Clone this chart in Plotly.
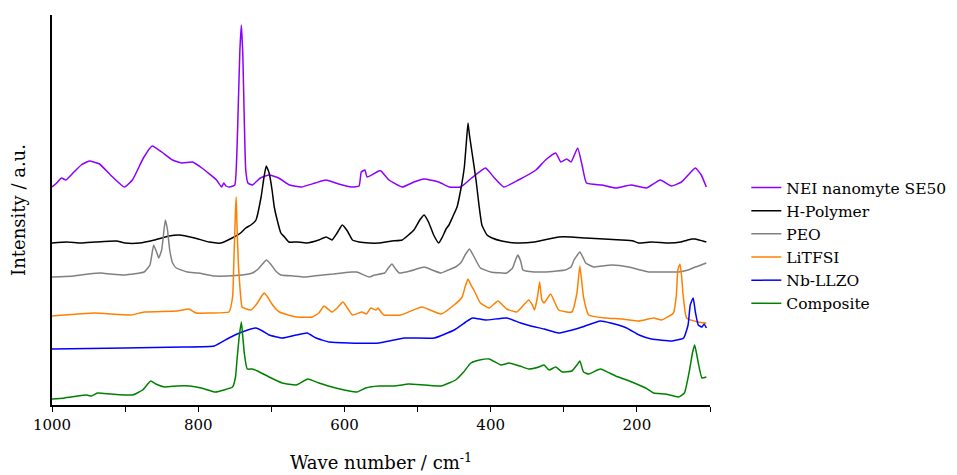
import plotly.graph_objects as go

# ---- data (Raman intensities, arbitrary units, vertically offset as in reference) ----
series_names = ["NEI nanomyte SE50", "H-Polymer", "PEO", "LiTFSI", "Nb-LLZO", "Composite"]
series_colors = ["#8B00FF", "#000000", "#808080", "#FF8000", "#0000FF", "#008000"]

wn_nei = [1000, 995, 987, 981, 970, 960, 949, 935, 920, 901, 890, 875, 863, 850, 835, 822, 808, 795, 775, 768,
          765, 762, 757, 750, 747, 745, 743, 741, 739, 737, 735, 732, 726, 715, 703, 690, 675, 659, 640, 625,
          608, 590, 580, 577, 572, 569, 553, 550, 539, 521, 505, 491, 471, 457, 441, 426, 407, 396, 382, 362,
          338, 325, 311, 304, 296, 290, 281, 275, 269, 248, 229, 208, 187, 168, 153, 139, 120, 112, 105]
int_nei = [218, 221, 227, 225, 233, 240, 244, 241, 230, 218, 225, 247, 259, 253, 245, 242, 243, 237, 225, 218,
           222, 219, 218, 220, 255, 305, 355, 380, 350, 285, 235, 222, 220, 227, 230, 227, 220, 218, 222, 225,
           221, 218, 219, 233, 235, 228, 234, 234, 225, 218, 223, 226, 223, 218, 218, 227, 237, 228, 218, 225,
           235, 245, 252, 243, 246, 243, 257, 240, 222, 220, 217, 220, 217, 225, 219, 223, 237, 230, 218]

wn_hpoly = [1000, 980, 960, 940, 912, 900, 880, 860, 840, 826, 805, 785, 769, 751, 742, 735, 728, 721, 714, 710,
            707, 703, 699, 696, 692, 687, 682, 676, 665, 652, 635, 625, 617, 610, 603, 596, 589, 580, 566, 553,
            535, 521, 505, 497, 491, 485, 478, 471, 466, 461, 457, 452, 446, 441, 436, 433, 431, 429, 425, 420,
            416, 412, 405, 398, 385, 365, 340, 307, 290, 270, 245, 221, 205, 198, 180, 156, 140, 125, 120, 110, 105]
int_hpoly = [162, 163, 162, 163, 164, 162, 162, 165, 169, 170, 167, 163, 162, 168, 172, 177, 180, 185, 208, 228,
             239, 232, 215, 198, 185, 172, 168, 163, 163, 162, 165, 168, 165, 172, 180, 174, 165, 163, 162, 162,
             164, 165, 175, 185, 190, 183, 170, 162, 168, 176, 180, 188, 198, 215, 238, 265, 282, 270, 250, 225,
             200, 180, 170, 167, 164, 162, 163, 168, 168, 167, 166, 165, 164, 162, 163, 162, 163, 166, 166, 164, 163]

wn_peo = [1000, 970, 950, 933, 920, 900, 874, 866, 861, 857, 854, 850, 845, 842, 839, 835, 830, 815, 800, 778,
          760, 740, 726, 718, 712, 707, 701, 694, 687, 670, 652, 630, 615, 603, 590, 583, 566, 559, 545, 540,
          535, 530, 525, 510, 491, 480, 468, 458, 448, 440, 435, 429, 424, 419, 414, 400, 378, 370, 366, 363,
          359, 356, 352, 340, 327, 310, 298, 290, 286, 278, 274, 270, 259, 248, 234, 211, 195, 184, 170, 156, 143, 130, 120, 112, 105]
int_peo = [128, 129, 131, 132, 131, 130, 133, 140, 160, 153, 147, 155, 185, 175, 155, 142, 137, 133, 132, 129,
           129, 130, 132, 136, 141, 145, 141, 134, 130, 129, 128, 130, 131, 132, 133, 133, 128, 130, 132, 137,
           141, 136, 132, 134, 138, 135, 132, 135, 138, 143, 150, 156, 150, 143, 137, 133, 132, 137, 145, 150,
           144, 135, 134, 133, 133, 134, 135, 138, 145, 153, 148, 142, 138, 139, 140, 138, 135, 133, 133, 133, 133, 135, 138, 140, 142]

wn_litfsi = [1000, 942, 892, 874, 829, 813, 803, 785, 758, 753, 751, 749, 748, 747, 745, 743, 740, 734, 728, 719,
             714, 710, 705, 701, 695, 689, 666, 644, 635, 628, 617, 610, 602, 596, 589, 576, 570, 564, 557, 554,
             550, 546, 523, 494, 468, 450, 439, 435, 431, 427, 423, 414, 402, 390, 378, 364, 348, 343, 340, 336,
             333, 330, 327, 318, 307, 289, 282, 278, 273, 266, 243, 220, 197, 177, 166, 150, 146, 144, 141, 139,
             137, 132, 116, 105]
int_litfsi = [89, 92, 90, 93, 94, 96, 92, 92, 93, 108, 150, 195, 208, 180, 140, 118, 98, 96, 95, 102,
              108, 112, 108, 103, 97, 93, 88, 88, 92, 99, 93, 97, 103, 97, 90, 93, 91, 97, 95, 97,
              93, 90, 90, 98, 91, 100, 108, 118, 126, 120, 115, 102, 97, 104, 96, 93, 105, 100, 95, 108,
              123, 105, 102, 111, 95, 93, 112, 139, 108, 90, 87, 86, 84, 87, 85, 92, 110, 135, 141, 130,
              112, 87, 83, 82]

wn_llzo = [1000, 900, 820, 778, 758, 740, 721, 712, 703, 685, 666, 651, 639, 621, 594, 553, 518, 477, 450, 434,
           425, 407, 378, 359, 345, 327, 307, 279, 250, 236, 214, 197, 180, 152, 136, 130, 127, 123, 120, 116,
           111, 108, 105]
int_llzo = [56, 57, 58, 59, 67, 73, 77, 74, 70, 67, 70, 72, 67, 63, 62, 62, 67, 67, 75, 83,
            87, 85, 87, 82, 79, 76, 72, 77, 84, 82, 77, 70, 66, 64, 67, 80, 100, 107, 93, 80,
            78, 81, 77]

wn_comp = [1000, 983, 965, 953, 946, 938, 919, 890, 876, 865, 858, 846, 829, 812, 796, 778, 776, 753, 749, 747,
           744, 741, 739, 737, 733, 726, 719, 703, 685, 666, 650, 635, 612, 583, 571, 553, 532, 512, 468, 448,
           437, 427, 415, 402, 386, 375, 360, 348, 334, 327, 320, 311, 302, 289, 282, 278, 273, 266, 250, 229,
           207, 188, 177, 161, 143, 135, 128, 124, 121, 118, 116, 111, 105]
int_comp = [6, 7, 9, 10, 9, 12, 11, 10, 15, 24, 21, 18, 19, 19, 17, 13, 13, 18, 28, 45,
            68, 83, 68, 52, 36, 36, 34, 28, 22, 20, 26, 22, 17, 13, 17, 19, 19, 21, 19, 25,
            33, 42, 45, 46, 40, 42, 39, 36, 38, 40, 35, 38, 33, 34, 40, 44, 33, 31, 36, 29,
            23, 17, 12, 11, 8, 12, 35, 52, 60, 50, 42, 27, 28]

x_tick_step = 200
x_range = [1000, 100]

FONT = "DejaVu Serif"

fig = go.Figure()
all_x = [wn_nei, wn_hpoly, wn_peo, wn_litfsi, wn_llzo, wn_comp]
all_y = [int_nei, int_hpoly, int_peo, int_litfsi, int_llzo, int_comp]
for name, color, xs, ys in zip(series_names, series_colors, all_x, all_y):
    fig.add_trace(go.Scatter(x=xs, y=ys, mode="lines", name=name,
                             line=dict(color=color, width=1.5, shape="spline", smoothing=0.4)))

# page body has an 8px default margin, so the figure is 8px smaller and margins compensate
fig.update_layout(
    width=949, height=467,
    margin=dict(l=44, r=247, t=7, b=70),
    paper_bgcolor="white", plot_bgcolor="white",
    font=dict(family=FONT, color="black", size=15),
    showlegend=True,
    legend=dict(xref="container", yref="container", x=0.778, y=0.651,
                xanchor="left", yanchor="top",
                font=dict(family=FONT, size=15.5, color="black"),
                bgcolor="rgba(0,0,0,0)", borderwidth=0, tracegroupgap=0),
    xaxis=dict(range=x_range, dtick=x_tick_step, tick0=0, automargin=False,
               showgrid=False, zeroline=False,
               showline=True, linecolor="black", linewidth=1.5,
               ticks="outside", ticklen=5, tickwidth=1.2, tickcolor="black",
               minor=dict(dtick=100, tick0=0, ticks="outside", ticklen=5, tickwidth=1.2, tickcolor="black"),
               tickfont=dict(family=FONT, size=15),
               title=dict(text="Wave number / cm<sup>-1</sup>", font=dict(family=FONT, size=18), standoff=24)),
    yaxis=dict(range=[0, 390], showticklabels=False, ticks="", automargin=False,
               showgrid=False, zeroline=False,
               showline=True, linecolor="black", linewidth=1.5,
               title=dict(text="Intensity / a.u.", font=dict(family=FONT, size=18), standoff=22)),
)

fig.write_html("out.html")
